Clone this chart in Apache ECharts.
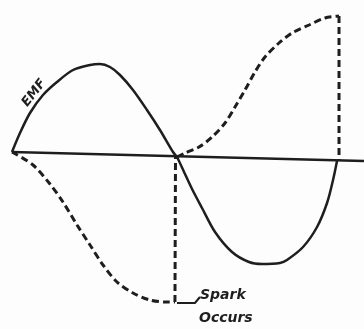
<!DOCTYPE html>
<html>
<head>
<meta charset="utf-8">
<script src="https://cdn.jsdelivr.net/npm/echarts@6/dist/echarts.min.js"></script>
<style>
  html, body { margin: 0; padding: 0; background: #fdfdfd; }
  #chart { width: 364px; height: 329px; }
</style>
</head>
<body>
<div id="chart"></div>
<script>
// phase angle (deg) / amplitude
const emf = [
  [0, 3], [8.8, 22], [19.8, 42], [34.1, 60], [49.5, 73], [67.2, 85], [85.9, 90],
  [96.9, 91], [107.9, 88], [118.9, 80], [133.2, 65], [148.6, 45], [162.9, 25],
  [177.2, 3], [181.6, -2], [189.4, -17], [198.2, -34], [209.2, -53], [223.5, -77],
  [242.2, -97], [260.9, -107], [275.2, -109], [295, -108], [302.7, -105],
  [320.4, -92], [335.8, -72], [346.8, -48], [353.4, -25], [357.8, -6]
];
const current1 = [
  [0, 3], [23.1, -10], [41.8, -29], [56.1, -47], [71.6, -70], [85.9, -90],
  [100.2, -110], [115.6, -127], [133.2, -138], [151.9, -145], [170.6, -147],
  [179.4, -147]
];
const drop1 = [[179.4, -147], [180, -2]];
const current2 = [
  [181.6, -2], [190.5, 2], [205.9, 8], [220.2, 18], [234.5, 32], [245.5, 48],
  [256.5, 65], [267.5, 83], [278.5, 98], [293.9, 112], [308.3, 122], [327, 130],
  [344.6, 137], [360, 139]
];
const drop2 = [[360, 139], [360, -6]];
const baseLine = [[0, 3], [387.5, -6]];
const leader = [[181.6, -148], [201.4, -148], [206.9, -142]];

const ink = '#1e1e1e';
const chart = echarts.init(document.getElementById('chart'));

function line(data, dashed, width, smooth) {
  return {
    type: 'line', data: data, showSymbol: false, smooth: smooth,
    lineStyle: { color: ink, width: width, type: dashed ? [7, 4] : 'solid', cap: 'butt' },
    silent: true, animation: false
  };
}

chart.setOption({
  backgroundColor: '#fdfdfd',
  grid: { left: 0, right: 0, top: 0, bottom: 0 },
  xAxis: { type: 'value', min: -13.2, max: 387.5, show: false },
  yAxis: { type: 'value', min: -174, max: 155, show: false },
  series: [
    line(baseLine, false, 2.5, false),
    line(emf, false, 2.5, 0.3),
    line(current1, true, 3, 0.3),
    line(drop1, true, 3, false),
    line(current2, true, 3, 0.3),
    line(drop2, true, 3, false),
    line(leader, false, 2, false)
  ],
  graphic: [
    {
      type: 'text', x: 34, y: 93, rotation: 52 * Math.PI / 180,
      style: { text: 'EMF', fill: ink, font: 'italic bold 13px "DejaVu Sans"', align: 'center', verticalAlign: 'middle' }
    },
    {
      type: 'text', x: 200, y: 295,
      style: { text: 'Spark', fill: ink, font: 'italic bold 14px "DejaVu Sans"', align: 'left', verticalAlign: 'middle' }
    },
    {
      type: 'text', x: 199, y: 318,
      style: { text: 'Occurs', fill: ink, font: 'italic bold 14px "DejaVu Sans"', align: 'left', verticalAlign: 'middle' }
    }
  ]
});
</script>
</body>
</html>
